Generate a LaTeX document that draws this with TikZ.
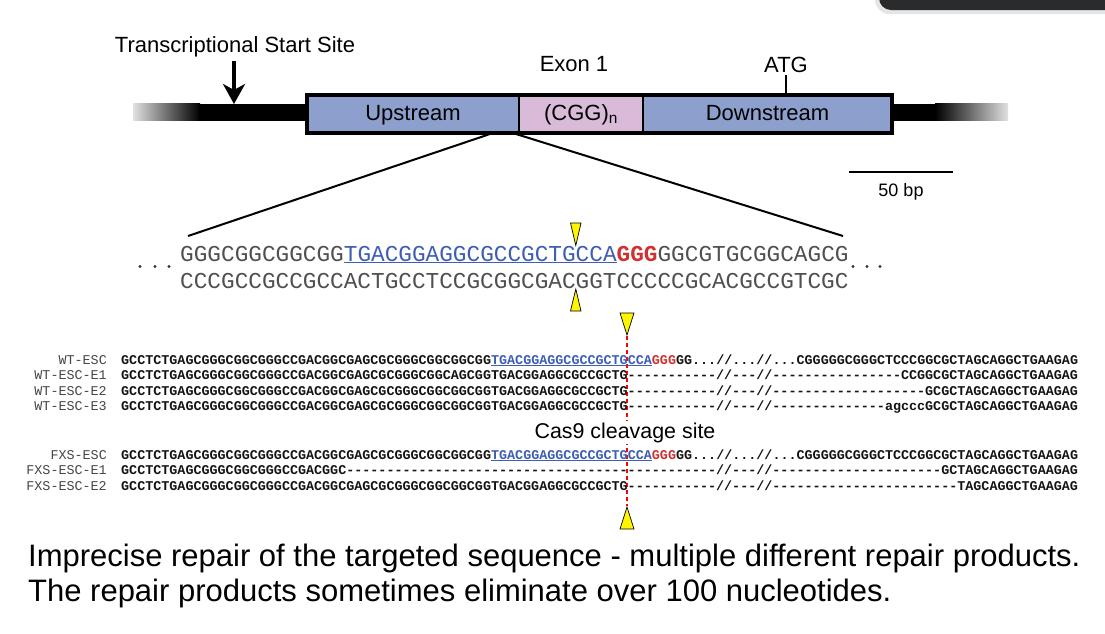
\documentclass[tikz,border=0pt]{standalone}
\usepackage{fontspec}
\setmainfont{Liberation Sans}
\setmonofont{Liberation Mono}
\usetikzlibrary{arrows.meta}
\definecolor{boxblue}{RGB}{141,160,205}
\definecolor{boxpink}{RGB}{217,187,217}
\definecolor{guideblue}{RGB}{62,94,182}
\definecolor{pamred}{RGB}{208,48,48}
\definecolor{seqgray}{RGB}{80,80,80}
\definecolor{seqblack}{RGB}{20,20,20}
\definecolor{lblgray}{RGB}{70,70,70}
\definecolor{panel}{RGB}{42,43,45}
\definecolor{marker}{RGB}{255,245,0}
\ExplSyntaxOn
\cs_new:Npn \seqdash #1 { \prg_replicate:nn {#1} {-} }
\ExplSyntaxOff
\newcommand\guide[1]{\textcolor{guideblue}{\underline{#1}}}
\newcommand\pam[1]{\textcolor{pamred}{#1}}
\newcommand\wtpre{GCCTCTGAGCGGGCGGCGGGCCGACGGCGAGCGCGGGCGGCGGCGG}
\newcommand\wtcut{\wtpre TGACGGAGGCGCCGCTG}
\begin{document}
\begin{tikzpicture}[x=1pt,y=-1pt,
  lbl/.style={inner sep=0pt, font=\fontsize{22}{26}\selectfont},
  seg/.style={draw=black, line width=1.5pt, minimum height=38pt, anchor=north west,
    inner sep=0pt, outer sep=0pt, text height=16pt, text depth=3pt,
    font=\fontsize{22}{26}\selectfont},
  topseq/.style={anchor=base west, inner sep=0pt, font=\ttfamily\fontsize{22.73}{26}\selectfont, text=seqgray},
  alseq/.style={anchor=base west, inner sep=0pt, font=\ttfamily\bfseries\fontsize{13.4}{15}\selectfont, text=seqblack},
  allbl/.style={anchor=base east, inner sep=0pt, font=\ttfamily\fontsize{13.4}{15}\selectfont, text=lblgray},
  tri/.style={fill=marker, draw=black, line width=0.7pt, line join=miter},
  zoomline/.style={line width=2pt},
  caption/.style={anchor=base west, inner sep=0pt, font=\fontsize{31}{35}\selectfont}
]
\useasboundingbox (0,0) rectangle (1105,633);
\fill[white] (0,0) rectangle (1105,633);
% screenshot panel corner
\begin{scope}
\clip (0,0) rectangle (1105,633);
\fill[black!10, rounded corners=14pt] (875,-30) rectangle (1130,14);
\fill[panel, rounded corners=12pt] (879,-30) rectangle (1130,10);
\end{scope}

% backbone
\shade[left color=black!12, right color=black] (133,103.5) rectangle (200,120.5);
\fill[black] (199,103.5) rectangle (308,120.5);
\fill[black] (891,103.5) rectangle (936,120.5);
\shade[left color=black, right color=black!12] (935,103.5) rectangle (1008,120.5);

% exon boxes
\node[seg, fill=boxblue, minimum width=212pt] (up) at (307,95) {Upstream};
\node[seg, fill=boxpink, minimum width=124pt] (cgg) at (519,95) {(CGG)\textsubscript{n}};
\node[seg, fill=boxblue, minimum width=249pt] (down) at (643,95) {Downstream};
\draw[line width=4pt] (up.north west) rectangle (down.south east);

% labels
\node[lbl, anchor=base] (tss) at (235,52) {Transcriptional Start Site};
\node[lbl, anchor=base] (exon) at (574,71) {Exon 1};
\node[lbl, anchor=base] (atg) at (786,72) {ATG};
\node[inner sep=0pt, anchor=base, font=\fontsize{18}{20}\selectfont] (bp) at (901,196) {50 bp};

% TSS arrow
\coordinate (tssTop) at (234,61);
\coordinate (tssTip) at (234,104);
\draw[line width=4.5pt, -{Stealth[length=20pt,width=22pt,inset=6pt]}] (tssTop) -- (tssTip);

% ATG tick
\coordinate (atgA) at (786,75);
\coordinate (atgB) at (786,94);
\draw[line width=1.5pt] (atgA) -- (atgB);

% scale bar
\coordinate (sb1) at (849,172);
\coordinate (sb2) at (953,172);
\draw[line width=2pt] (sb1) -- (sb2);

% zoom lines
\coordinate (zl1) at (490,134);
\coordinate (zl2) at (188,236);
\coordinate (zr1) at (516,134);
\coordinate (zr2) at (843,236);
\draw[zoomline] (zl1) -- (zl2);
\draw[zoomline] (zr1) -- (zr2);

% double strand
\node[topseq] (ts) at (180,261) {GGGCGGCGGCGG\guide{TGACGGAGGCGCCGCTGCCA}\pam{\bfseries GGG}GGCGTGCGGCAGCG};
\node[topseq] (bs) at (180,288) {CCCGCCGCCGCCACTGCCTCCGCGGCGACGGTCCCCCGCACGCCGTCGC};
\foreach \x in {140,155,169} \fill[black!80] (\x,266.5) circle (1.6);
\foreach \x in {853,867,880} \fill[black!80] (\x,266.5) circle (1.6);
\draw[tri] (570.5,223) -- (581,223) -- (575.8,245.5) -- cycle;
\draw[tri] (575.8,289) -- (581,311) -- (570.5,311) -- cycle;

% alignment
\coordinate (cutTop) at (627,336);
\coordinate (cutBot) at (627,506);
\draw[red, line width=1.2pt, dash pattern=on 4pt off 3pt] (cutTop) -- (cutBot);

\node[allbl] (l1) at (107,364) {WT-ESC};
\node[alseq] (s1) at (121,364) {\wtpre\guide{TGACGGAGGCGCCGCTGCCA}\pam{GGG}GG...//...//...CGGGGGCGGGCTCCCGGCGCTAGCAGGCTGAAGAG};
\node[allbl] (l2) at (107,379.5) {WT-ESC-E1};
\node[alseq] (s2) at (121,379.5) {GCCTCTGAGCGGGCGGCGGGCCGACGGCGAGCGCGGGCGGCAGCGGTGACGGAGGCGCCGCTG\seqdash{11}//\seqdash{3}//\seqdash{16}CCGGCGCTAGCAGGCTGAAGAG};
\node[allbl] (l3) at (107,395) {WT-ESC-E2};
\node[alseq] (s3) at (121,395) {\wtcut\seqdash{11}//\seqdash{3}//\seqdash{19}GCGCTAGCAGGCTGAAGAG};
\node[allbl] (l4) at (107,410.5) {WT-ESC-E3};
\node[alseq] (s4) at (121,410.5) {\wtcut\seqdash{11}//\seqdash{3}//\seqdash{14}agcccGCGCTAGCAGGCTGAAGAG};

\node[fill=white, inner sep=2pt, anchor=base, font=\fontsize{21.4}{24}\selectfont] (cas9) at (625,438) {Cas9 cleavage site};

\node[allbl] (l5) at (107,459) {FXS-ESC};
\node[alseq] (s5) at (121,459) {\wtpre\guide{TGACGGAGGCGCCGCTGCCA}\pam{GGG}GG...//...//...CGGGGGCGGGCTCCCGGCGCTAGCAGGCTGAAGAG};
\node[allbl] (l6) at (107,474.5) {FXS-ESC-E1};
\node[alseq] (s6) at (121,474.5) {GCCTCTGAGCGGGCGGCGGGCCGACGGC\seqdash{46}//\seqdash{3}//\seqdash{21}GCTAGCAGGCTGAAGAG};
\node[allbl] (l7) at (107,490) {FXS-ESC-E2};
\node[alseq] (s7) at (121,490) {\wtcut\seqdash{11}//\seqdash{3}//\seqdash{23}TAGCAGGCTGAAGAG};

\draw[tri] (620,313) -- (634,313) -- (627,335) -- cycle;
\draw[tri] (627,507) -- (634,529) -- (620,529) -- cycle;

% caption
\node[caption] (c1) at (28,566) {Imprecise repair of the targeted sequence - multiple different repair products.};
\node[caption] (c2) at (28,601) {The repair products sometimes eliminate over 100 nucleotides.};
\end{tikzpicture}
\end{document}
